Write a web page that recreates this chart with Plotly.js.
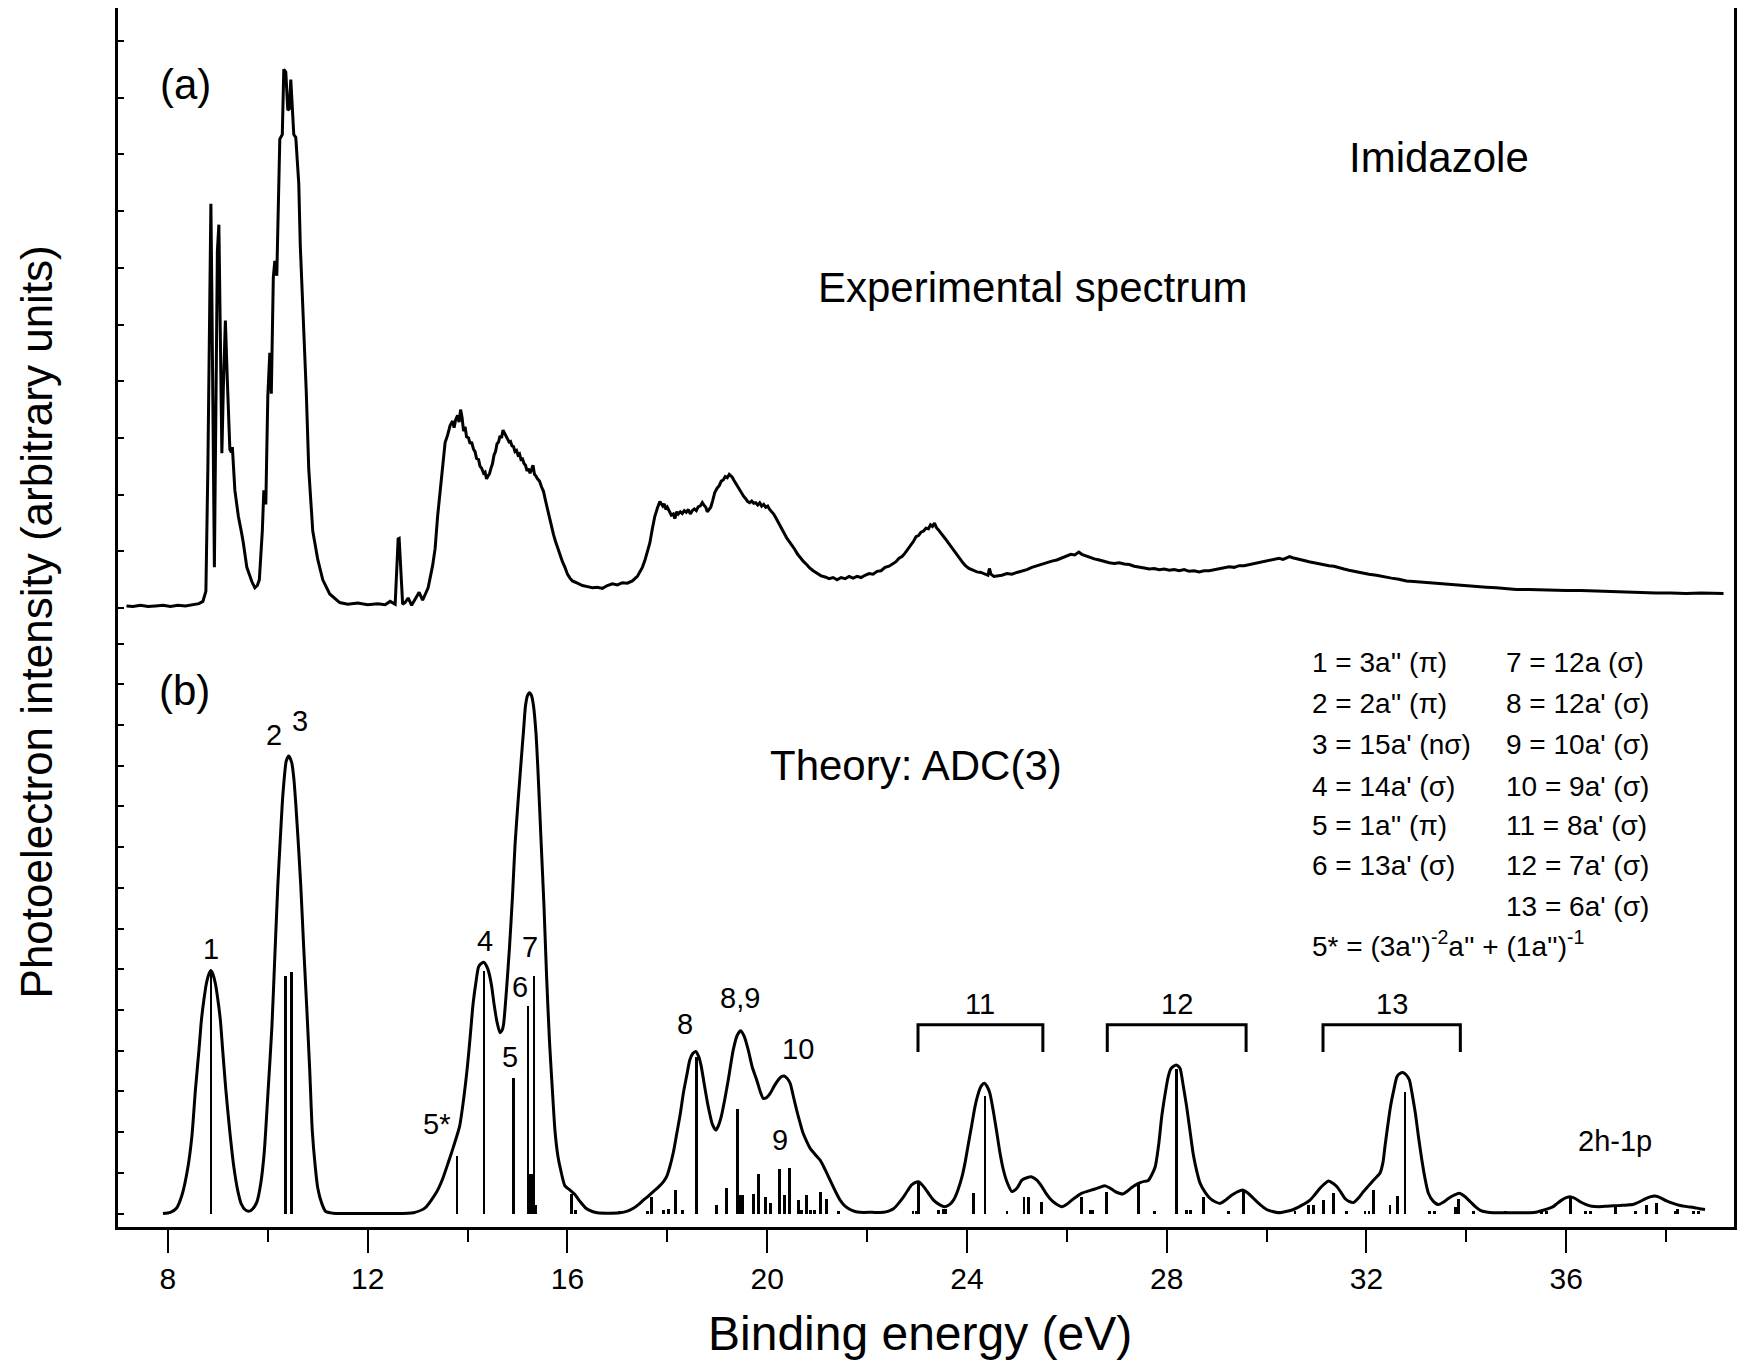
<!DOCTYPE html>
<html>
<head>
<meta charset="utf-8">
<script src="https://cdn.plot.ly/plotly-3.0.1.min.js"></script>
<style>html,body{margin:0;padding:0;background:#fff;}#chart{width:1745px;height:1361px;}</style>
</head>
<body>
<div id="chart"></div>
<script>
// ---------- (a) experimental spectrum ----------
const expEnergy = [7.17,7.3,7.45,7.6,7.75,7.9,8.05,8.2,8.35,8.5,8.62,8.7,8.76,8.8,8.84,8.86,8.88,8.91,8.93,8.96,8.99,9.02,9.05,9.08,9.11,9.15,9.19,9.24,9.27,9.29,9.34,9.41,9.47,9.51,9.58,9.63,9.68,9.74,9.79,9.83,9.87,9.89,9.92,9.96,10.0,10.04,10.07,10.11,10.14,10.18,10.24,10.29,10.32,10.36,10.40,10.43,10.46,10.49,10.52,10.56,10.62,10.65,10.72,10.77,10.82,10.9,11.0,11.1,11.24,11.44,11.6,11.8,12.0,12.2,12.35,12.45,12.55,12.61,12.63,12.67,12.70,12.75,12.81,12.88,12.95,13.03,13.10,13.16,13.21,
  13.30,13.35,13.40,13.45,13.50,13.55,13.60,13.65,13.70,13.73,
  13.76,13.80,13.83,13.86,13.89,13.92,13.95,13.98,14.02,14.05,
  14.08,14.12,14.15,14.18,14.22,14.25,14.28,14.32,14.35,14.38,
  14.41,14.44,14.47,14.50,14.53,14.56,14.59,14.62,14.65,14.68,
  14.71,14.74,14.77,14.80,14.83,14.86,14.89,14.92,14.95,14.98,
  15.01,15.04,15.07,15.10,15.13,15.16,15.19,15.22,15.25,15.28,
  15.31,15.34,15.37,15.40,15.44,15.48,15.52,15.56,15.60,15.64,
  15.68,15.72,15.76,15.80,15.85,15.90,15.95,16.00,16.05,16.10,
  16.2,16.3,16.4,16.5,16.6,16.7,16.8,16.9,17.0,17.1,
  17.2,17.3,17.4,17.45,17.5,17.55,17.6,17.65,17.7,17.75,
  17.8,17.85,17.88,17.91,17.94,17.97,18.0,18.04,18.08,18.12,
  18.15,18.19,18.22,18.26,18.30,18.34,18.38,18.42,18.46,18.50,
  18.54,18.58,18.62,18.66,18.70,18.73,18.77,18.80,18.84,18.87,
  18.91,18.95,19.0,19.04,19.08,19.12,19.16,19.20,19.24,19.27,
  19.30,19.33,19.37,19.41,19.45,19.49,19.53,19.57,19.61,19.65,
  19.69,19.73,19.77,19.81,19.85,19.89,19.93,19.97,20.01,20.05,
  20.09,20.13,20.17,20.21,20.25,20.29,20.34,20.39,20.44,20.49,
  20.55,20.61,20.67,20.73,20.79,20.85,20.92,21.0,21.08,21.16,
  21.24,21.32,21.40,21.48,21.56,21.64,21.72,21.80,21.88,21.96,
  22.04,22.12,22.20,22.28,22.36,22.44,22.52,22.58,22.64,22.70,
  22.76,22.82,22.88,22.93,22.98,23.03,23.08,23.13,23.18,23.23,
  23.27,23.31,23.35,23.39,23.43,23.47,23.52,23.57,23.62,23.67,
  23.72,23.77,23.82,23.87,23.92,23.97,24.04,24.12,24.2,24.28,
  24.36,24.42,24.45,24.48,24.54,24.62,24.7,24.8,24.9,25.0,
  25.1,25.2,25.3,25.4,25.5,25.6,25.7,25.8,25.9,26.0,
  26.08,26.16,26.24,26.30,26.38,26.46,26.55,26.65,26.75,26.85,
  26.95,27.05,27.15,27.25,27.35,27.45,27.55,27.65,27.75,27.85,
  27.95,28.05,28.15,28.25,28.35,28.45,28.55,28.65,28.75,28.85,
  28.95,29.05,29.15,29.25,29.35,29.45,29.55,29.65,29.75,29.85,
  29.95,30.05,30.15,30.25,30.33,30.40,30.46,30.52,30.58,30.66,
  30.75,30.85,30.95,31.05,31.15,31.25,31.35,31.45,31.55,31.65,
  31.75,31.85,31.95,32.05,32.2,32.35,32.5,32.65,32.8,32.95,
  33.1,33.25,33.4,33.6,33.8,34.0,34.2,34.4,34.6,34.8,
  35.0,35.25,35.5,35.75,36.0,36.3,36.6,36.9,37.2,37.5,
  37.8,38.1,38.4,38.7,39.0,39.15];
const expIntensity = [0.04,0.03,0.05,0.03,0.04,0.05,0.03,0.05,0.04,0.06,0.08,0.12,0.3,2.5,6.0,7.13,5.5,2.0,0.72,3.5,6.3,6.76,4.8,2.73,3.9,5.07,4.0,2.8,2.75,2.84,2.08,1.62,1.35,1.15,0.72,0.58,0.47,0.36,0.40,0.50,1.0,1.36,2.08,1.83,3.74,4.5,3.78,5.83,6.12,5.86,8.27,8.35,9.5,9.45,8.78,8.8,9.32,8.9,8.35,8.3,7.48,6.4,4.96,3.81,2.45,1.36,0.86,0.5,0.25,0.1,0.07,0.09,0.06,0.08,0.06,0.12,0.07,1.22,1.23,0.65,0.07,0.1,0.18,0.05,0.15,0.28,0.14,0.25,0.36,
  0.75,1.05,1.62,2.10,2.55,2.92,3.05,3.22,3.30,3.18,
  3.32,3.40,3.28,3.50,3.36,3.12,3.20,3.02,3.00,2.90,
  2.93,2.80,2.76,2.64,2.62,2.50,2.47,2.38,2.40,2.28,
  2.33,2.37,2.47,2.55,2.70,2.76,2.90,2.93,3.04,3.00,
  3.14,3.08,3.02,2.97,2.93,2.94,2.86,2.85,2.76,2.78,
  2.70,2.72,2.62,2.63,2.55,2.52,2.42,2.46,2.38,2.44,
  2.52,2.36,2.33,2.28,2.24,2.14,2.06,1.90,1.75,1.58,
  1.42,1.30,1.18,1.07,0.95,0.82,0.72,0.60,0.53,0.48,
  0.44,0.40,0.38,0.36,0.37,0.35,0.40,0.43,0.41,0.45,
  0.44,0.48,0.56,0.64,0.72,0.84,0.98,1.15,1.40,1.62,
  1.76,1.88,1.84,1.80,1.84,1.74,1.78,1.70,1.64,1.66,
  1.58,1.70,1.66,1.70,1.67,1.72,1.69,1.74,1.66,1.72,
  1.75,1.72,1.79,1.80,1.86,1.82,1.78,1.70,1.74,1.78,
  1.90,2.04,2.12,2.16,2.24,2.26,2.32,2.30,2.36,2.34,
  2.31,2.26,2.20,2.14,2.08,2.04,1.97,1.93,1.88,1.86,
  1.89,1.85,1.86,1.82,1.86,1.80,1.83,1.78,1.80,1.74,
  1.70,1.66,1.60,1.54,1.47,1.40,1.32,1.24,1.18,1.11,
  1.04,0.95,0.88,0.82,0.77,0.71,0.66,0.62,0.57,0.55,
  0.52,0.54,0.50,0.54,0.52,0.56,0.53,0.56,0.54,0.58,
  0.61,0.60,0.65,0.66,0.72,0.74,0.79,0.82,0.88,0.91,
  0.97,1.04,1.10,1.18,1.26,1.28,1.34,1.36,1.41,1.40,
  1.47,1.44,1.50,1.42,1.38,1.34,1.28,1.22,1.16,1.10,
  1.04,0.97,0.90,0.85,0.80,0.75,0.70,0.67,0.64,0.63,
  0.60,0.58,0.70,0.60,0.56,0.57,0.58,0.61,0.60,0.63,
  0.65,0.68,0.72,0.75,0.77,0.80,0.83,0.85,0.89,0.92,
  0.95,0.94,0.99,0.95,0.92,0.89,0.87,0.85,0.82,0.80,
  0.79,0.80,0.78,0.77,0.74,0.73,0.71,0.69,0.70,0.68,
  0.69,0.67,0.68,0.66,0.68,0.65,0.66,0.64,0.66,0.66,
  0.68,0.70,0.71,0.73,0.72,0.75,0.75,0.77,0.79,0.80,
  0.82,0.84,0.86,0.88,0.86,0.89,0.91,0.89,0.88,0.86,
  0.84,0.82,0.80,0.79,0.77,0.75,0.74,0.71,0.69,0.67,
  0.65,0.63,0.61,0.60,0.58,0.55,0.53,0.51,0.48,0.47,
  0.46,0.45,0.44,0.42,0.40,0.39,0.38,0.37,0.36,0.34,
  0.33,0.33,0.32,0.32,0.31,0.31,0.30,0.29,0.29,0.28,
  0.27,0.27,0.26,0.27,0.26,0.26];

// ---------- (b) ADC(3) convoluted spectrum ----------
const theoEnergy = [7.90,8.05,8.17,8.28,8.40,8.48,8.55,8.62,8.67,8.72,8.77,8.82,8.86,8.90,8.95,9.0,9.05,9.1,9.16,9.24,9.32,9.4,9.47,9.55,9.63,9.70,9.78,9.86,9.93,10.0,10.08,10.14,10.20,10.25,10.30,10.37,10.42,10.48,10.52,10.56,10.61,10.66,10.72,10.78,10.84,10.89,10.95,11.0,11.08,11.16,11.3,11.5,12.0,12.5,12.92,13.15,13.38,13.5,13.61,13.72,13.84,13.92,14.00,14.06,14.11,14.17,14.22,14.28,14.33,14.38,14.42,14.48,14.53,14.59,14.65,14.69,14.72,14.78,14.84,14.9,14.95,15.01,15.07,15.12,15.16,15.20,15.24,15.28,15.32,15.37,15.41,15.47,15.53,15.58,15.64,15.7,15.75,15.81,15.87,15.95,16.05,16.14,16.25,16.37,16.5,16.60,16.8,17.05,17.2,17.32,17.42,17.52,17.62,17.72,17.82,17.92,17.99,18.05,18.12,18.19,18.26,18.32,18.39,18.45,18.51,18.57,18.63,18.68,18.75,18.82,18.90,18.97,19.02,19.08,19.15,19.22,19.32,19.4,19.47,19.54,19.62,19.70,19.79,19.86,19.92,19.99,20.06,20.14,20.22,20.28,20.34,20.40,20.46,20.52,20.59,20.66,20.72,20.79,20.86,20.96,21.06,21.16,21.26,21.36,21.46,21.56,21.66,21.76,21.86,22.1,22.33,22.43,22.53,22.63,22.73,22.81,22.89,22.96,23.03,23.09,23.16,23.24,23.33,23.45,23.56,23.65,23.73,23.82,23.90,23.97,24.03,24.10,24.16,24.21,24.26,24.30,24.35,24.40,24.46,24.53,24.60,24.66,24.73,24.81,24.90,25.0,25.10,25.20,25.30,25.40,25.50,25.58,25.66,25.78,25.90,26.0,26.10,26.20,26.30,26.42,26.53,26.65,26.77,26.87,26.97,27.05,27.12,27.21,27.30,27.39,27.47,27.55,27.63,27.70,27.77,27.84,27.90,27.97,28.03,28.08,28.13,28.19,28.23,28.27,28.33,28.40,28.47,28.53,28.60,28.67,28.77,28.87,28.97,29.07,29.18,29.30,29.41,29.52,29.63,29.74,29.87,30.0,30.12,30.24,30.39,30.54,30.7,30.87,30.97,31.07,31.16,31.24,31.32,31.41,31.49,31.57,31.65,31.74,31.84,31.94,32.04,32.14,32.22,32.27,32.33,32.37,32.42,32.48,32.55,32.61,32.67,32.74,32.80,32.86,32.92,32.98,33.04,33.11,33.17,33.24,33.34,33.44,33.54,33.64,33.75,33.86,33.97,34.08,34.18,34.28,34.4,34.54,34.9,35.28,35.42,35.54,35.64,35.74,35.82,35.91,36.0,36.09,36.18,36.28,36.4,36.51,36.65,36.81,36.95,37.09,37.22,37.35,37.47,37.58,37.68,37.78,37.9,38.01,38.14,38.28,38.42,38.55,38.67,38.78];
const theoIntensity = [0.0,0.03,0.13,0.45,1.14,1.9,3.03,4.0,4.75,5.25,5.65,5.88,5.97,5.88,5.65,5.25,4.75,3.95,3.03,2.0,1.14,0.55,0.23,0.09,0.06,0.12,0.28,0.75,1.53,2.9,4.54,6.3,8.05,9.2,10.26,11.12,11.24,11.07,10.7,10.06,9.1,8.05,6.5,5.05,3.5,2.04,1.15,0.63,0.25,0.05,0.01,0.0,0.0,0.0,0.02,0.14,0.53,0.85,1.24,1.65,2.14,2.8,3.65,4.45,5.15,5.7,6.06,6.15,6.17,6.08,5.95,5.6,5.15,4.7,4.44,4.5,4.64,5.5,6.55,7.8,9.05,10.1,11.07,11.85,12.47,12.72,12.79,12.72,12.47,11.8,10.87,9.2,7.56,5.9,4.24,3.0,2.04,1.4,1.04,0.68,0.58,0.48,0.3,0.13,0.05,0.02,0.01,0.02,0.06,0.13,0.22,0.33,0.43,0.54,0.65,0.78,0.92,1.15,1.5,1.97,2.45,2.95,3.4,3.77,3.93,3.98,3.85,3.61,3.1,2.62,2.2,2.05,2.15,2.38,2.8,3.28,4.02,4.38,4.49,4.35,4.02,3.6,3.28,3.0,2.83,2.85,2.95,3.13,3.28,3.36,3.38,3.32,3.2,2.9,2.54,2.22,1.97,1.77,1.6,1.45,1.31,1.08,0.82,0.56,0.33,0.18,0.1,0.05,0.03,0.03,0.03,0.06,0.12,0.25,0.41,0.56,0.70,0.76,0.78,0.72,0.62,0.48,0.33,0.22,0.17,0.22,0.33,0.58,0.9,1.3,1.72,2.2,2.62,2.88,3.07,3.16,3.2,3.13,2.95,2.5,1.97,1.5,1.07,0.75,0.54,0.62,0.82,0.88,0.90,0.82,0.66,0.5,0.37,0.24,0.17,0.23,0.33,0.42,0.50,0.55,0.59,0.64,0.68,0.62,0.54,0.50,0.48,0.55,0.64,0.71,0.76,0.79,0.81,0.95,1.15,1.7,2.38,2.95,3.36,3.55,3.61,3.65,3.62,3.56,3.15,2.62,2.0,1.47,1.05,0.74,0.52,0.37,0.29,0.25,0.33,0.45,0.53,0.58,0.50,0.37,0.22,0.10,0.05,0.02,0.05,0.10,0.2,0.33,0.47,0.62,0.73,0.80,0.75,0.66,0.52,0.37,0.30,0.27,0.38,0.54,0.68,0.82,0.92,0.99,1.25,1.64,2.1,2.62,3.05,3.36,3.44,3.46,3.4,3.28,2.9,2.46,1.9,1.31,0.88,0.5,0.3,0.22,0.28,0.37,0.45,0.5,0.42,0.29,0.17,0.08,0.04,0.02,0.02,0.02,0.04,0.08,0.12,0.17,0.25,0.33,0.39,0.41,0.37,0.29,0.22,0.18,0.17,0.18,0.19,0.2,0.21,0.23,0.29,0.36,0.41,0.43,0.38,0.31,0.25,0.2,0.17,0.15,0.12,0.10];

// ---------- (b) ADC(3) pole strengths (stick spectrum) ----------
const stickEnergy = [8.86,10.35,10.48,13.79,14.33,14.92,15.21,15.33,15.26,15.29,15.36,16.08,16.16,17.03,17.60,17.69,17.92,18.02,18.17,18.30,18.59,18.99,19.19,19.40,19.44,19.47,19.51,19.72,19.82,19.96,20.06,20.24,20.35,20.45,20.63,20.69,20.79,20.86,20.95,21.06,21.18,21.43,22.92,22.98,23.03,23.43,23.53,23.58,24.13,24.36,24.80,25.14,25.23,25.49,26.30,26.47,26.51,26.80,27.43,27.76,28.19,28.39,28.47,28.74,29.24,29.54,30.24,30.57,30.84,30.94,31.14,31.34,31.60,31.97,32.05,32.14,32.47,32.62,32.77,33.26,33.36,33.79,33.84,34.15,34.78,35.50,35.60,36.08,36.38,36.48,36.98,37.38,37.61,37.81,38.18,38.23,38.55,38.65];
const stickStrength = [5.9,5.83,5.93,1.41,5.95,3.34,5.09,5.83,0.98,0.98,0.2,0.48,0.08,0.06,0.06,0.41,0.08,0.1,0.59,0.08,3.84,0.21,0.62,2.56,0.45,0.45,0.45,0.47,0.96,0.41,0.25,1.09,0.45,1.13,0.33,0.08,0.45,0.08,0.08,0.54,0.37,0.06,0.06,0.06,0.78,0.08,0.1,0.1,0.51,2.89,0.06,0.41,0.41,0.29,0.41,0.08,0.08,0.54,0.74,0.06,3.55,0.08,0.08,0.41,0.06,0.58,0.06,0.06,0.2,0.2,0.33,0.5,0.06,0.06,0.06,0.58,0.2,0.43,2.99,0.06,0.06,0.17,0.37,0.06,0.06,0.06,0.06,0.41,0.06,0.06,0.17,0.06,0.2,0.25,0.06,0.1,0.06,0.06];

// ---------- peak labels ----------
const peakLabels = ["1","2","3","4","5*","5","6","7","8","8,9","10","9","2h-1p"];
const peakLabelX = [8.86,10.12,10.64,14.35,13.37,14.85,15.05,15.25,18.35,19.46,20.62,20.26,36.98];
const peakLabelY = [6.50,11.76,12.10,6.70,2.20,3.85,5.57,6.55,4.66,5.30,4.04,1.81,1.78];

// ---------- bracketed band groups ----------
const groupLabels = ["11","12","13"];
const groupStart = [23.02,26.81,31.13];
const groupEnd = [25.52,29.59,33.88];

// ---------- orbital assignment legend ----------
const legendCol1 = ["1 = 3a'' (\u03C0)","2 = 2a'' (\u03C0)","3 = 15a' (n\u03C3)","4 = 14a' (\u03C3)","5 = 1a'' (\u03C0)","6 = 13a' (\u03C3)"];
const legendCol2 = ["7 = 12a (\u03C3)","8 = 12a' (\u03C3)","9 = 10a' (\u03C3)","10 = 9a' (\u03C3)","11 = 8a' (\u03C3)","12 = 7a' (\u03C3)","13 = 6a' (\u03C3)"];
const legendExtra = "5* = (3a'')<sup>-2</sup>a'' + (1a'')<sup>-1</sup>";

const FONT = "Liberation Sans, Arial, Helvetica, sans-serif";
const XR = [7.0, 39.36];

const traces = [
  {x: expEnergy, y: expIntensity, xaxis:'x', yaxis:'y2', type:'scatter', mode:'lines',
   line:{color:'#000', width:3}, hoverinfo:'skip'},
  {x: theoEnergy, y: theoIntensity, xaxis:'x', yaxis:'y', type:'scatter', mode:'lines',
   line:{color:'#000', width:3, shape:'spline', smoothing:0.6}, hoverinfo:'skip'},
  {x: stickEnergy, y: stickStrength, xaxis:'x', yaxis:'y', type:'bar', width:0.055,
   base:0, marker:{color:'#000', line:{width:0}}, hoverinfo:'skip'}
];

const annotations = [];
function ann(text, x, y, xref, yref, size, extra) {
  annotations.push(Object.assign({text:text, x:x, y:y, xref:xref, yref:yref, showarrow:false,
    xanchor:'center', yanchor:'middle', font:{family:FONT, size:size, color:'#000'}}, extra||{}));
}
ann("(a)", 8.36, 9.24, 'x', 'y2', 42);
ann("Imidazole", 33.46, 7.95, 'x', 'y2', 42);
ann("Experimental spectrum", 25.32, 5.66, 'x', 'y2', 42);
ann("(b)", 8.34, 12.84, 'x', 'y', 42);
ann("Theory: ADC(3)", 22.98, 11.0, 'x', 'y', 42);
peakLabels.forEach((t,i)=>ann(t, peakLabelX[i], peakLabelY[i], 'x', 'y', 29));
groupLabels.forEach((t,i)=>ann(t, (groupStart[i]+groupEnd[i])/2, 5.15, 'x', 'y', 29));
const rowY = [13.53,12.52,11.51,10.50,9.54,8.56,7.55];
legendCol1.forEach((t,i)=>ann(t, 30.87, rowY[i], 'x', 'y', 28, {xanchor:'left'}));
legendCol2.forEach((t,i)=>ann(t, 34.76, rowY[i], 'x', 'y', 28, {xanchor:'left'}));
ann(legendExtra, 30.87, 6.62, 'x', 'y', 28, {xanchor:'left'});
ann("Binding energy (eV)", 0.496, -0.087, 'paper', 'paper', 48);
ann("Photoelectron intensity (arbitrary units)", -0.0507, 0.496, 'paper', 'paper', 44, {textangle:-90});

const shapes = groupStart.map((s,i)=>({type:'path', xref:'x', yref:'y',
  path:`M ${s},3.97 L ${s},4.64 L ${groupEnd[i]},4.64 L ${groupEnd[i]},3.97`,
  line:{color:'#000', width:3}}));

const topAxis = (anchor) => ({overlaying:'x', anchor:anchor, side:'top', range:XR, showline:true,
  linewidth:3, linecolor:'#000', ticks:'inside', dtick:4, tick0:0, ticklen:23, tickwidth:2,
  tickcolor:'#000', showticklabels:false, showgrid:false, zeroline:false,
  minor:{dtick:2, tick0:0, ticks:'inside', ticklen:12, tickwidth:2, tickcolor:'#000', showgrid:false}});

const layout = {
  width:1745, height:1361, paper_bgcolor:'#fff', plot_bgcolor:'#fff', showlegend:false,
  margin:{l:118, r:11, t:8, b:134}, bargap:0,
  font:{family:FONT, color:'#000'},
  xaxis:{range:XR, anchor:'y', showline:true, linewidth:3, linecolor:'#000', mirror:false,
    ticks:'outside', dtick:4, tick0:0, ticklen:23, tickwidth:2, tickcolor:'#000',
    tickfont:{family:FONT, size:30, color:'#000'}, showgrid:false, zeroline:false,
    minor:{dtick:2, tick0:0, ticks:'outside', ticklen:12, tickwidth:2, tickcolor:'#000', showgrid:false}},
  xaxis2: topAxis('y'),
  xaxis3: topAxis('y2'),
  yaxis:{domain:[0,0.50205], range:[-0.33,14.70], anchor:'x', showline:true, linewidth:3,
    linecolor:'#000', mirror:true, ticks:'inside', dtick:1, tick0:0, ticklen:6, tickwidth:2,
    tickcolor:'#000', showticklabels:false, showgrid:false, zeroline:false},
  yaxis2:{domain:[0.50205,1], range:[-0.12,10.58], anchor:'x', showline:true, linewidth:3,
    linecolor:'#000', mirror:true, ticks:'inside', dtick:1, tick0:0, ticklen:6, tickwidth:2,
    tickcolor:'#000', showticklabels:false, showgrid:false, zeroline:false},
  annotations: annotations,
  shapes: shapes
};

Plotly.newPlot('chart', traces, layout, {staticPlot:true, displayModeBar:false});
</script>
</body>
</html>
